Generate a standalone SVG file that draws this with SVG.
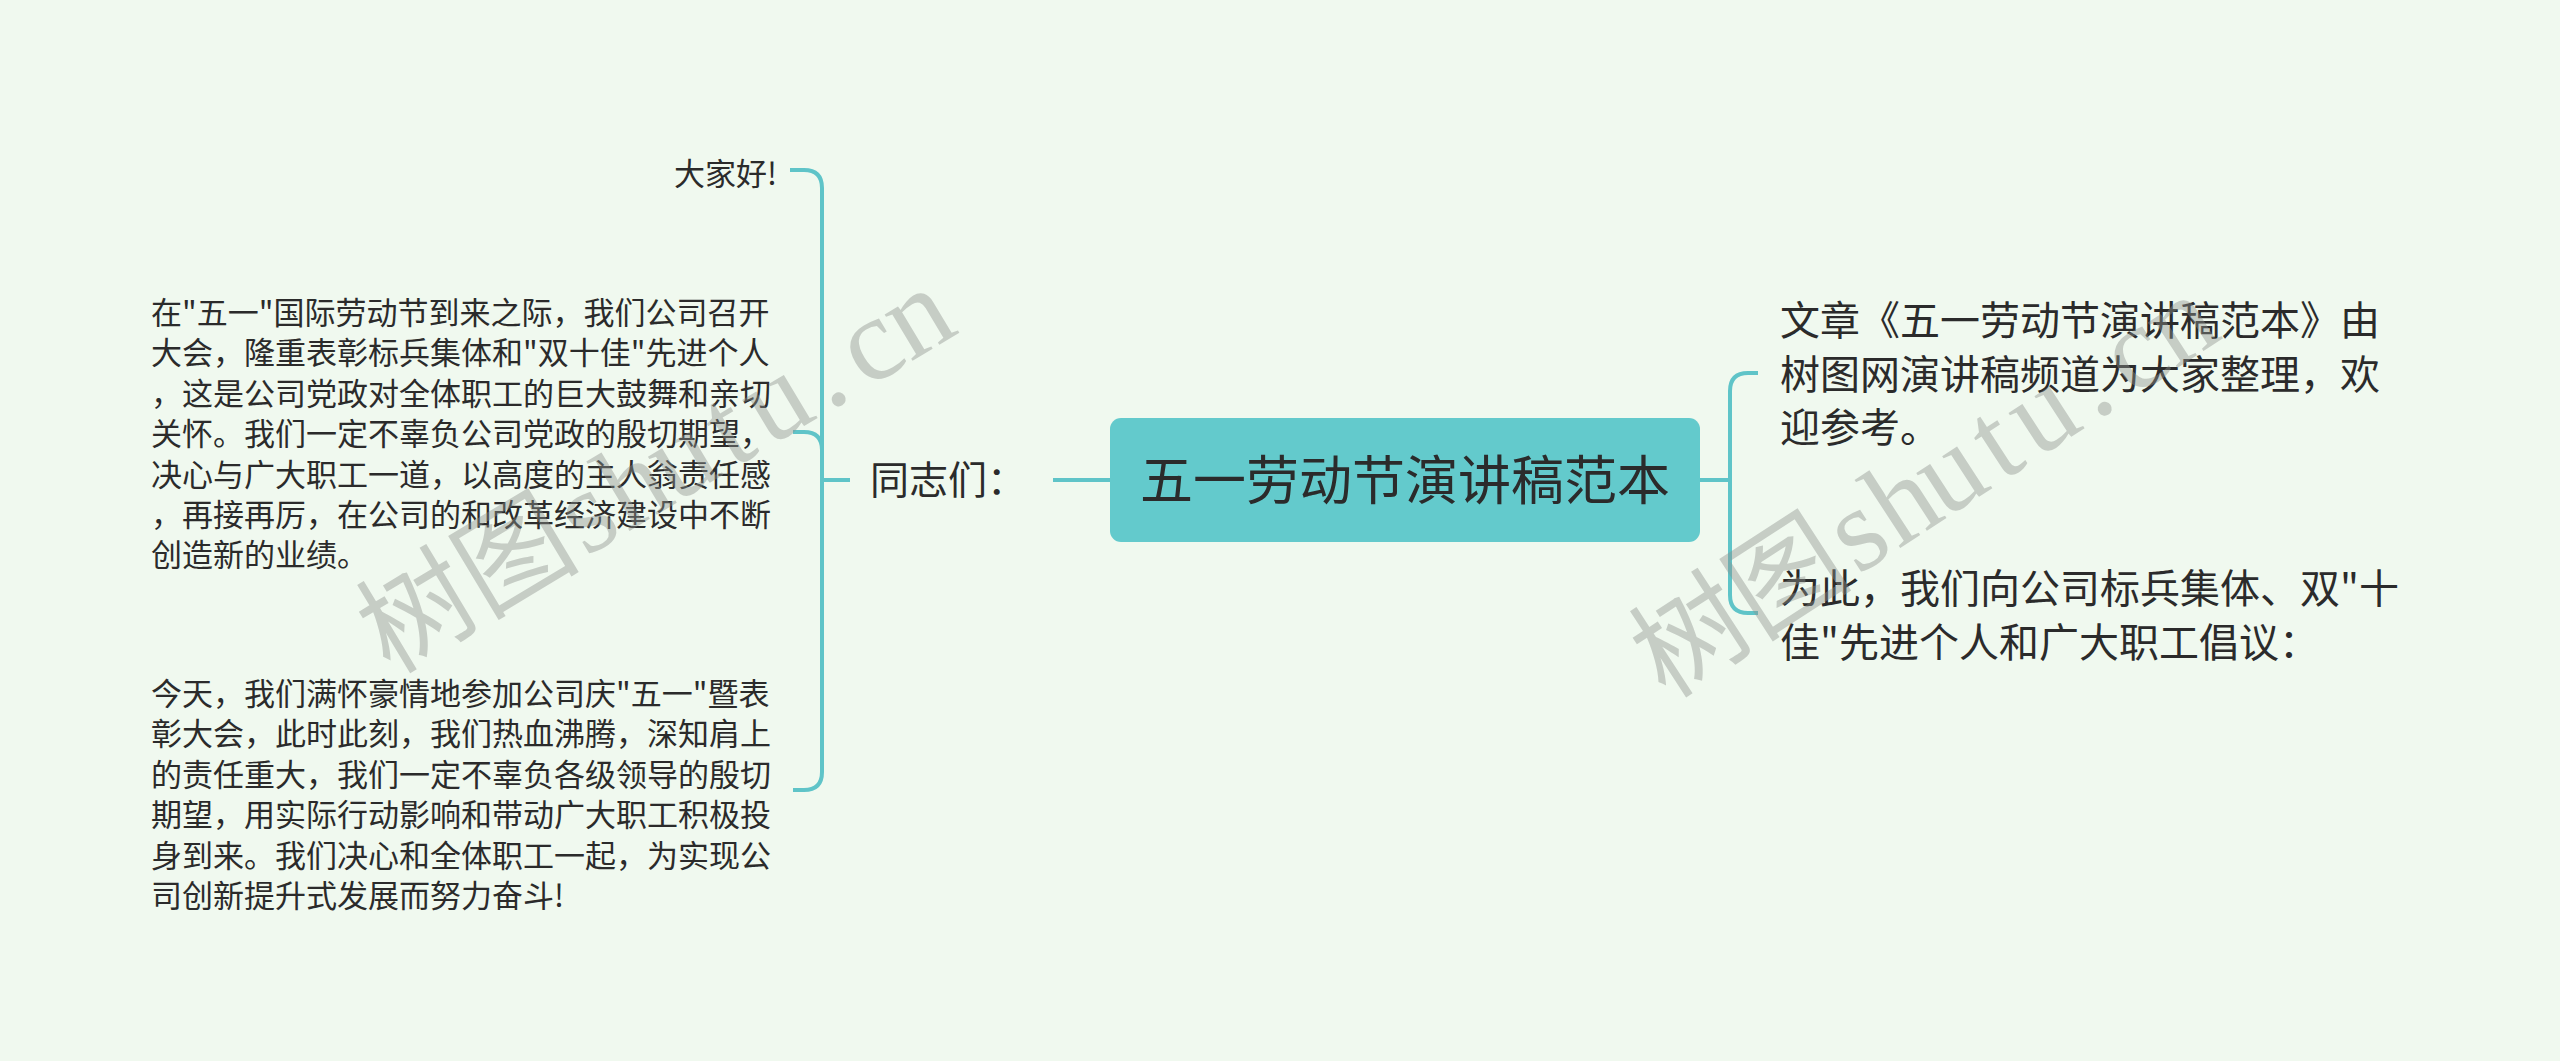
<svg xmlns="http://www.w3.org/2000/svg" width="2560" height="1061" viewBox="0 0 2560 1061">
<style>
.bg{fill:#f0f9ef}
.conn{fill:none;stroke:#5fc4c8;stroke-width:4;stroke-linecap:butt}
.root{fill:#63cacc}
.t{font-family:"Noto Sans CJK SC","Noto Sans",sans-serif;fill:#2b2b2b}
.s{font-size:31px}
.m{font-size:40px}
.wm{font-family:"Liberation Serif","Noto Sans CJK SC",serif;font-size:112px;fill:#8d918d;opacity:0.42}
.wl{font-size:118px}
</style>
<rect class="bg" x="0" y="0" width="2560" height="1061"/>
<g id="connectors">
<path class="conn" d="M1053,480 H1110"/>
<path class="conn" d="M850,480 H822"/>
<path class="conn" d="M822,480 V188 Q822,170 804,170 H790"/>
<path class="conn" d="M822,480 V450 Q822,432 804,432 H793"/>
<path class="conn" d="M822,480 V772 Q822,790 804,790 H793"/>
<path class="conn" d="M1700,480 H1730"/>
<path class="conn" d="M1730,480 V391 Q1730,373 1748,373 H1758"/>
<path class="conn" d="M1730,480 V595 Q1730,613 1748,613 H1758"/>
</g>
<g id="root">
<rect class="root" x="1110" y="418" width="590" height="124" rx="11"/>
<text class="t" x="1405" y="500" font-size="53" text-anchor="middle">五一劳动节演讲稿范本</text>
</g>
<g id="node-tongzhi">
<text class="t" x="870" y="494" font-size="39">同志们：</text>
</g>
<g id="node-dajiahao">
<text class="t s" x="777" y="185" text-anchor="end">大家好!</text>
</g>
<g id="node-para1">
<text class="t s">
<tspan x="151" y="324">在"五一"国际劳动节到来之际，我们公司召开</tspan>
<tspan x="151" y="364.4">大会，隆重表彰标兵集体和"双十佳"先进个人</tspan>
<tspan x="151" y="404.8">，这是公司党政对全体职工的巨大鼓舞和亲切</tspan>
<tspan x="151" y="445.2">关怀。我们一定不辜负公司党政的殷切期望，</tspan>
<tspan x="151" y="485.6">决心与广大职工一道，以高度的主人翁责任感</tspan>
<tspan x="151" y="526">，再接再厉，在公司的和改革经济建设中不断</tspan>
<tspan x="151" y="566.4">创造新的业绩。</tspan>
</text>
</g>
<g id="node-para2">
<text class="t s">
<tspan x="151" y="705">今天，我们满怀豪情地参加公司庆"五一"暨表</tspan>
<tspan x="151" y="745.4">彰大会，此时此刻，我们热血沸腾，深知肩上</tspan>
<tspan x="151" y="785.8">的责任重大，我们一定不辜负各级领导的殷切</tspan>
<tspan x="151" y="826.2">期望，用实际行动影响和带动广大职工积极投</tspan>
<tspan x="151" y="866.6">身到来。我们决心和全体职工一起，为实现公</tspan>
<tspan x="151" y="907">司创新提升式发展而努力奋斗!</tspan>
</text>
</g>
<g id="node-article">
<text class="t m">
<tspan x="1780" y="335">文章《五一劳动节演讲稿范本》由</tspan>
<tspan x="1780" y="388.5">树图网演讲稿频道为大家整理，欢</tspan>
<tspan x="1780" y="442">迎参考。</tspan>
</text>
</g>
<g id="node-proposal">
<text class="t m">
<tspan x="1780" y="603">为此，我们向公司标兵集体、双"十</tspan>
<tspan x="1780" y="657">佳"先进个人和广大职工倡议：</tspan>
</text>
</g>
<g id="watermarks">
<text class="wm" transform="translate(390,675) rotate(-31)"><tspan x="0 112">树图</tspan><tspan class="wl" x="228.5 277 332 400 442 511.8 555.3 607">shutu.cn</tspan></text>
<text class="wm" transform="translate(1666,700) rotate(-33)"><tspan x="0 112">树图</tspan><tspan class="wl" x="228.5 277 332 400 442 511.8 555.3 607">shutu.cn</tspan></text>
</g>
</svg>
